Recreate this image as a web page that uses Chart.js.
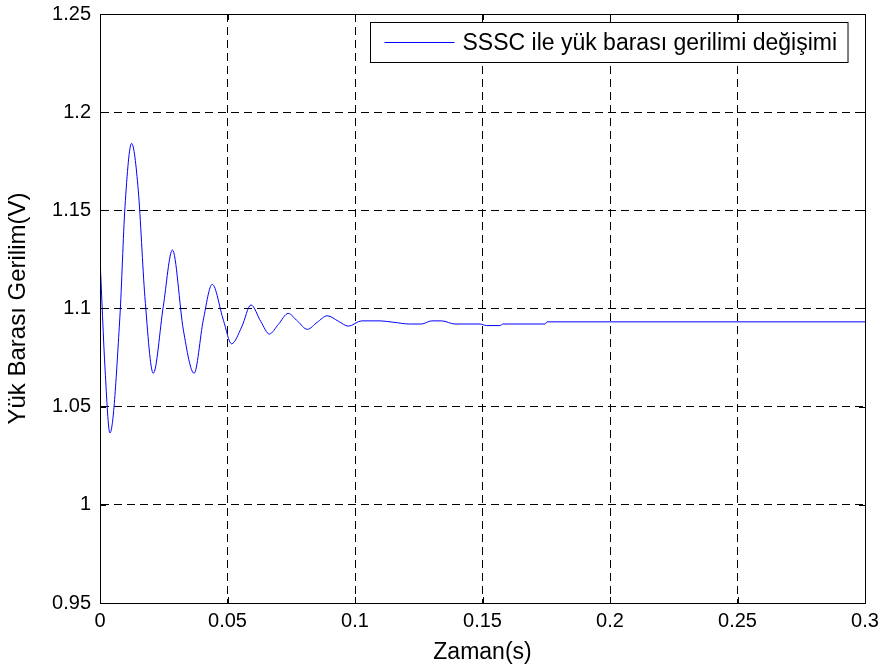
<html>
<head>
<meta charset="UTF-8"/>
<style>
html, body {
 margin: 0px;
 border: 0;
 overflow: hidden;
 background-color: #ffffff;
}
</style>
<script src="https://cdn.jsdelivr.net/npm/chart.js@4.4.1/dist/chart.umd.min.js"></script>
<script type="text/javascript">
var seriesLabel = 'SSSC ile yük barası gerilimi değişimi';
var xTitle = 'Zaman(s)';
var yTitle = 'Yük Barası Gerilim(V)';

// time (s) and load bus voltage
var timeVals = [0, 0.002, 0.0039, 0.0078, 0.0098, 0.0124, 0.015, 0.0176, 0.0209, 0.0248,
    0.0284, 0.0327, 0.0369, 0.0405, 0.044, 0.0484, 0.0516, 0.0556, 0.0592, 0.0631,
    0.0664, 0.07, 0.0738, 0.0775, 0.0813, 0.0852, 0.0891, 0.0935, 0.0974, 0.1026,
    0.1098, 0.115, 0.1215, 0.126, 0.1301, 0.134, 0.1392, 0.149, 0.1516, 0.1569,
    0.158, 0.1745, 0.1753, 0.3];
var voltVals = [1.1257, 1.0687, 1.0366, 1.0958, 1.1518, 1.1841, 1.1603, 1.106, 1.067, 1.1009,
    1.1298, 1.089, 1.067, 1.0941, 1.1123, 1.094, 1.082, 1.0907, 1.1018, 1.0933,
    1.087, 1.092, 1.0975, 1.0935, 1.0894, 1.093, 1.0963, 1.0935, 1.091, 1.0937,
    1.0937, 1.093, 1.0921, 1.0921, 1.0937, 1.0937, 1.0921, 1.0921, 1.0913, 1.0913,
    1.0921, 1.0921, 1.0932, 1.0932];

var xTicks = [0, 0.05, 0.1, 0.15, 0.2, 0.25, 0.3];
var yTicks = [0.95, 1, 1.05, 1.1, 1.15, 1.2, 1.25];

var FONT = "'Liberation Sans', Arial, sans-serif";

// frame box, inward ticks and boxed legend like matlab
var matlabFrame = {
    id: 'matlabFrame',
    afterDatasetsDraw: function(chart) {
        var ctx = chart.ctx;
        var a = chart.chartArea;
        var xs = chart.scales.x, ys = chart.scales.y;
        ctx.save();
        ctx.strokeStyle = '#000';
        ctx.lineWidth = 1;
        ctx.setLineDash([]);
        ctx.beginPath();
        xTicks.forEach(function(v) {
            var px = Math.round(xs.getPixelForValue(v)) + 0.5;
            ctx.moveTo(px, a.bottom); ctx.lineTo(px, a.bottom - 6);
            ctx.moveTo(px, a.top); ctx.lineTo(px, a.top + 6);
        });
        yTicks.forEach(function(v) {
            var py = Math.round(ys.getPixelForValue(v)) + 0.5;
            ctx.moveTo(a.left, py); ctx.lineTo(a.left + 6, py);
            ctx.moveTo(a.right, py); ctx.lineTo(a.right - 6, py);
        });
        ctx.stroke();
        ctx.strokeRect(Math.round(a.left) + 0.5, Math.round(a.top) + 0.5,
            Math.round(a.right - a.left), Math.round(a.bottom - a.top));

        // legend
        ctx.font = '23px ' + FONT;
        var tw = ctx.measureText(seriesLabel).width;
        var w = 14 + 70 + 8 + tw + 11, h = 40;
        var bx = Math.round(a.right - 17 - w) + 0.5, by = Math.round(a.top + 8) + 0.5;
        ctx.fillStyle = '#fff';
        ctx.fillRect(bx, by, w, h);
        ctx.strokeRect(bx, by, w, h);
        ctx.strokeStyle = '#0000ff';
        ctx.beginPath();
        ctx.moveTo(bx + 14, by + 20); ctx.lineTo(bx + 84, by + 20);
        ctx.stroke();
        ctx.fillStyle = '#000';
        ctx.textBaseline = 'middle';
        ctx.fillText(seriesLabel, bx + 92, by + 21);
        ctx.restore();
    }
};

function init() {
    var pts = timeVals.map(function(t, i) { return {x: t, y: voltVals[i]}; });
    var ctx = document.getElementById('myChart').getContext('2d');
    new Chart(ctx, {
        type: 'line',
        data: {
            datasets: [{
                label: seriesLabel,
                data: pts,
                borderColor: '#0000ff',
                borderWidth: 1,
                pointRadius: 0,
                cubicInterpolationMode: 'monotone',
                fill: false
            }]
        },
        options: {
            responsive: false,
            animation: false,
            layout: { padding: { left: 0, top: 14, right: 20, bottom: 0 } },
            plugins: {
                legend: { display: false },
                tooltip: { enabled: false }
            },
            scales: {
                x: {
                    type: 'linear',
                    min: 0, max: 0.3,
                    afterBuildTicks: function(s) { s.ticks = xTicks.map(function(v) { return {value: v}; }); },
                    afterFit: function(s) { s.height = 68; s.paddingLeft = 0; s.paddingRight = 0; },
                    ticks: {
                        color: '#000', padding: 6, maxRotation: 0,
                        font: { family: FONT, size: 20 },
                        callback: function(v) { return String(Number(v.toFixed(2))); }
                    },
                    grid: { color: '#000', drawTicks: false },
                    border: { display: true, color: '#000', dash: [8, 5] },
                    title: { display: true, text: xTitle, color: '#000',
                        font: { family: FONT, size: 23 }, padding: { top: 0, bottom: 5 } }
                },
                y: {
                    min: 0.95, max: 1.25,
                    afterBuildTicks: function(s) { s.ticks = yTicks.map(function(v) { return {value: v}; }); },
                    afterFit: function(s) { s.width = 100; s.paddingTop = 0; s.paddingBottom = 0; },
                    ticks: {
                        color: '#000', padding: 9,
                        font: { family: FONT, size: 20 },
                        callback: function(v) { return String(Number(v.toFixed(2))); }
                    },
                    grid: { color: '#000', drawTicks: false },
                    border: { display: true, color: '#000', dash: [8, 5] },
                    title: { display: true, text: yTitle, color: '#000',
                        font: { family: FONT, size: 24 }, padding: { top: 4, bottom: 0 } }
                }
            }
        },
        plugins: [matlabFrame]
    });
}
</script>
<title>Chart</title>
</head>
<body onload="JavaScript:init();">
<canvas id="myChart" width="885" height="671"></canvas>
</body>
</html>
